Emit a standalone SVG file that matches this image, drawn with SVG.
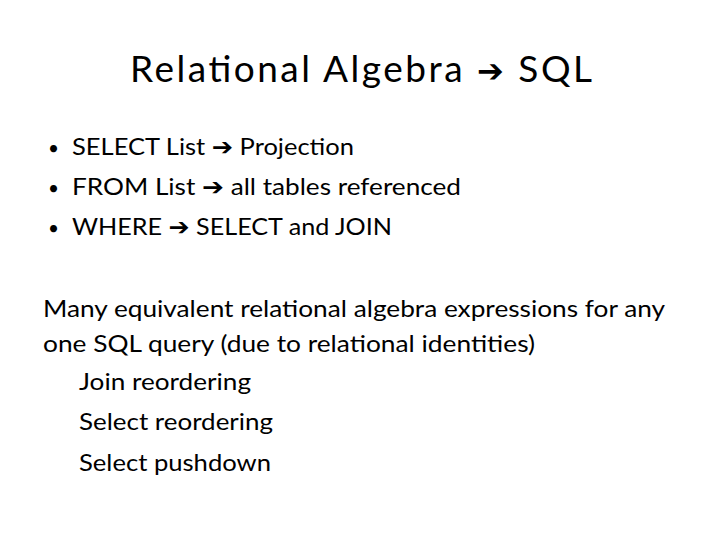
<svg xmlns="http://www.w3.org/2000/svg" width="720" height="540" viewBox="0 0 720 540">
<style>
text{font-family:Lato,"Liberation Sans",sans-serif;fill:#000}
.t{font-size:37px}
.b{font-size:23.5px}
.a{font-family:"DejaVu Sans",sans-serif;font-weight:bold}
</style>
<rect width="720" height="540" fill="#fff"/>
<text class="t" x="130" y="82" textLength="462" lengthAdjust="spacing">Relational Algebra <tspan class="a" font-size="32">➔</tspan> SQL</text>
<g class="b">
<text x="48" y="155" font-size="19">•</text><text x="72" y="155" textLength="282" lengthAdjust="spacingAndGlyphs">SELECT List <tspan class="a">➔</tspan> Projection</text>
<text x="48" y="195" font-size="19">•</text><text x="72" y="195" textLength="389" lengthAdjust="spacingAndGlyphs">FROM List <tspan class="a">➔</tspan> all tables referenced</text>
<text x="48" y="235" font-size="19">•</text><text x="72" y="235" textLength="320" lengthAdjust="spacingAndGlyphs">WHERE <tspan class="a">➔</tspan>  SELECT and JOIN</text>
<text x="43" y="317" textLength="622" lengthAdjust="spacingAndGlyphs">Many equivalent relational algebra expressions for any</text>
<text x="43" y="352" textLength="492" lengthAdjust="spacingAndGlyphs">one SQL query (due to relational identities)</text>
<text x="79" y="390" textLength="172" lengthAdjust="spacingAndGlyphs">Join reordering</text>
<text x="79" y="430" textLength="194" lengthAdjust="spacingAndGlyphs">Select reordering</text>
<text x="79" y="471" textLength="192" lengthAdjust="spacingAndGlyphs">Select pushdown</text>
</g>
</svg>
